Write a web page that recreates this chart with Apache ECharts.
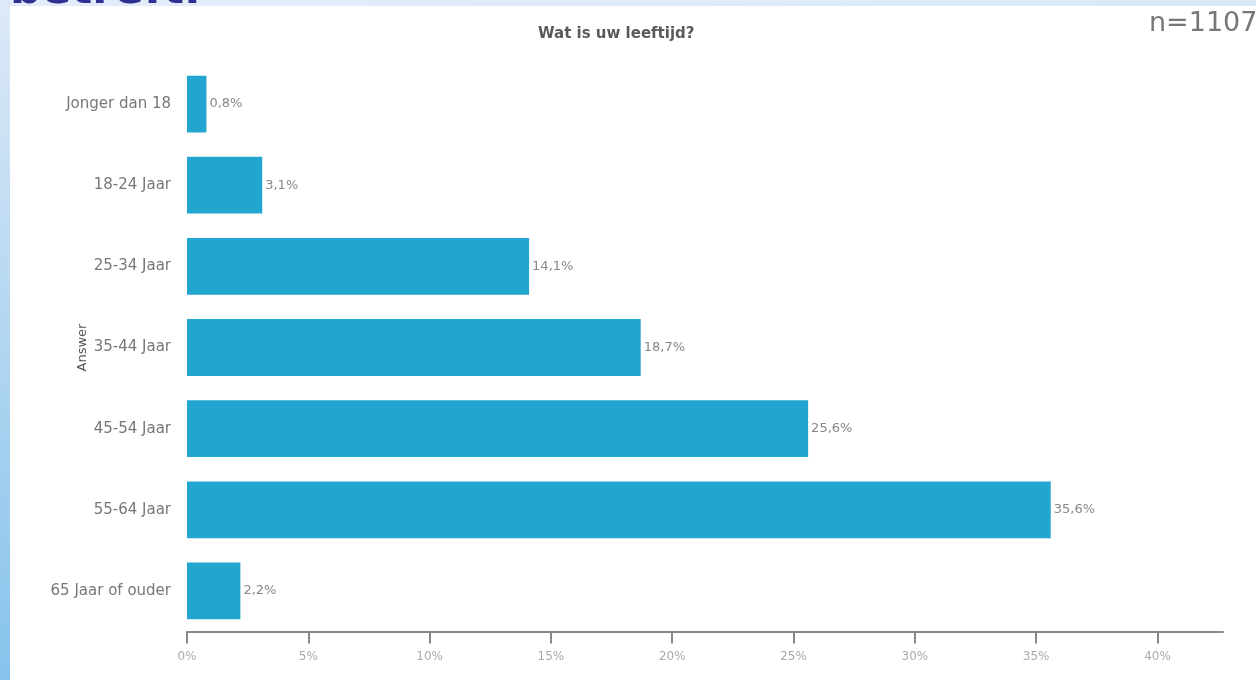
<!DOCTYPE html>
<html>
<head>
<meta charset="utf-8">
<script src="https://cdn.jsdelivr.net/npm/echarts@6/dist/echarts.min.js"></script>
<style>
  html, body { margin: 0; padding: 0; background: #fff; }
  #chart { width: 1256px; height: 680px; }
</style>
</head>
<body>
<div id="chart"></div>
<script>
// leeftijdsgroepen
const categories = ['Jonger dan 18', '18-24 Jaar', '25-34 Jaar', '35-44 Jaar', '45-54 Jaar', '55-64 Jaar', '65 Jaar of ouder'];
const percentages = [0.8, 3.1, 14.1, 18.7, 25.6, 35.6, 2.2];
const tickValues = [0, 5, 10, 15, 20, 25, 30, 35, 40];

const chart = echarts.init(document.getElementById('chart'));

const option = {
  backgroundColor: '#fff',
  animation: false,
  textStyle: { fontFamily: 'DejaVu Sans' },
  title: {
    text: 'Wat is uw leeftijd?',
    left: 533,
    top: 22,
    textStyle: { fontSize: 15, fontWeight: 'bold', color: '#5a5a5a', fontFamily: 'DejaVu Sans' }
  },
  graphic: [
    {
      type: 'rect',
      left: 0, top: 0,
      shape: { width: 10, height: 680 },
      style: {
        fill: new echarts.graphic.LinearGradient(0, 0, 0, 1, [
          { offset: 0, color: '#dde9f7' },
          { offset: 1, color: '#86c3eb' }
        ])
      }
    },
    {
      type: 'rect',
      left: 10, top: 0,
      shape: { width: 1246, height: 6 },
      style: {
        fill: new echarts.graphic.LinearGradient(0, 0, 1, 0, [
          { offset: 0, color: '#e2edf9' },
          { offset: 1, color: '#dbe9f7' }
        ])
      }
    },
    {
      // titel van de slide, grotendeels buiten beeld
      type: 'text',
      x: 10, y: -30,
      style: {
        text: 'betreft.',
        fontSize: 44,
        fontWeight: 'bold',
        fontFamily: 'DejaVu Sans',
        fill: '#2e3192'
      }
    },
    {
      type: 'text',
      x: 1149, y: 10,
      style: {
        text: 'n=1107',
        fontSize: 27,
        fontFamily: 'DejaVu Sans',
        fill: '#777'
      }
    }
  ],
  grid: {
    left: 187,
    right: 33,
    top: 63.5,
    bottom: 48.5,
    containLabel: false
  },
  xAxis: {
    type: 'value',
    min: 0,
    max: 42.7,
    interval: 5,
    splitLine: { show: false },
    axisLine: { show: true, lineStyle: { color: '#888', width: 2 } },
    axisTick: {
      show: true,
      length: 12,
      customValues: tickValues,
      lineStyle: { color: '#888', width: 2 }
    },
    axisLabel: {
      customValues: tickValues,
      margin: 19,
      color: '#aaa',
      fontSize: 12,
      formatter: v => v + '%'
    }
  },
  yAxis: {
    type: 'category',
    data: categories,
    inverse: true,
    name: 'Answer',
    nameLocation: 'middle',
    nameRotate: 90,
    nameGap: 98,
    nameMoveOverlap: false,
    nameTextStyle: { color: '#555', fontSize: 13 },
    axisLine: { show: false },
    axisTick: { show: false },
    axisLabel: { color: '#777', fontSize: 15, margin: 16 }
  },
  series: [
    {
      type: 'bar',
      data: percentages,
      barCategoryGap: '30%',
      itemStyle: { color: '#22a6cf' },
      label: {
        show: true,
        position: 'right',
        distance: 3,
        color: '#888',
        fontSize: 13,
        formatter: p => p.value.toFixed(1).replace('.', ',') + '%'
      }
    }
  ]
};

chart.setOption(option);
</script>
</body>
</html>
